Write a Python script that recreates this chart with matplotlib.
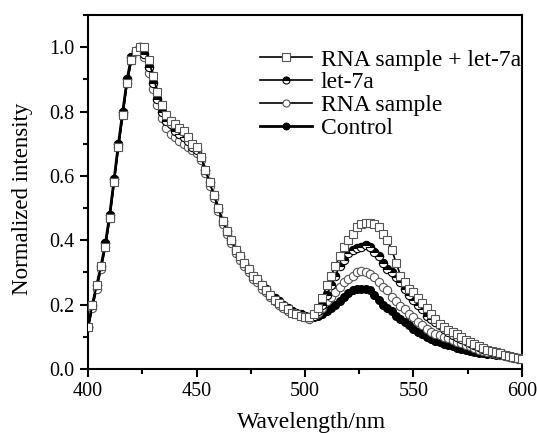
import numpy as np
import matplotlib
matplotlib.use("Agg")
import matplotlib.pyplot as plt
from matplotlib.ticker import MultipleLocator

plt.rcParams['font.family'] = ['Liberation Serif', 'DejaVu Serif']

wavelength = np.arange(400, 601, 2)

blue_common = [0.13, 0.20, 0.26, 0.32, 0.39, 0.48, 0.59, 0.70, 0.80, 0.90,
               0.97, 0.99, 1.00, 0.98, 0.94, 0.89, 0.84, 0.80, 0.77, 0.76,
               0.74, 0.73, 0.72, 0.71, 0.69, 0.68, 0.66, 0.62, 0.58, 0.54,
               0.50, 0.46, 0.43, 0.40, 0.37, 0.35, 0.33, 0.31, 0.29, 0.28,
               0.26, 0.25, 0.23, 0.22, 0.21, 0.20, 0.19, 0.18, 0.175, 0.17,
               0.165, 0.16]

rna_let7a_blue = [0.13, 0.20, 0.26, 0.32, 0.38, 0.47, 0.58, 0.69, 0.79, 0.89,
                  0.96, 0.99, 1.00, 1.00, 0.96, 0.91, 0.86, 0.82, 0.79, 0.77,
                  0.76, 0.75, 0.74, 0.72, 0.70, 0.69, 0.66, 0.62, 0.58, 0.54,
                  0.50, 0.46, 0.43, 0.40, 0.37, 0.35, 0.33, 0.31, 0.29, 0.28,
                  0.26, 0.245, 0.23, 0.215, 0.205, 0.195, 0.185, 0.175, 0.17, 0.165,
                  0.16, 0.16]
rna_let7a_green = [0.17, 0.19, 0.22, 0.26, 0.29, 0.32, 0.35, 0.38, 0.40, 0.42,
                   0.44, 0.45, 0.455, 0.455, 0.45, 0.44, 0.42, 0.40, 0.37, 0.33,
                   0.29, 0.27, 0.25, 0.24, 0.22, 0.205, 0.19, 0.17, 0.155, 0.14,
                   0.13, 0.12, 0.115, 0.11, 0.10, 0.09, 0.085, 0.078, 0.072, 0.066,
                   0.06, 0.056, 0.052, 0.048, 0.044, 0.04, 0.036, 0.033, 0.03]

let7a_green = [0.165, 0.18, 0.20, 0.23, 0.26, 0.29, 0.32, 0.34, 0.36, 0.37,
               0.375, 0.38, 0.385, 0.38, 0.365, 0.35, 0.33, 0.31, 0.30, 0.285,
               0.27, 0.25, 0.23, 0.215, 0.20, 0.185, 0.165, 0.155, 0.145, 0.135,
               0.125, 0.115, 0.105, 0.10, 0.093, 0.087, 0.08, 0.074, 0.068, 0.063,
               0.058, 0.054, 0.05, 0.047, 0.044, 0.041, 0.038, 0.035, 0.032]

rna_blue = [0.13, 0.19, 0.25, 0.31, 0.38, 0.47, 0.58, 0.69, 0.79, 0.89,
            0.96, 0.99, 1.00, 0.97, 0.92, 0.87, 0.82, 0.78, 0.75, 0.73,
            0.72, 0.71, 0.70, 0.69, 0.68, 0.67, 0.65, 0.61, 0.57, 0.53,
            0.49, 0.45, 0.42, 0.39, 0.36, 0.34, 0.32, 0.30, 0.28, 0.27,
            0.25, 0.24, 0.225, 0.21, 0.20, 0.19, 0.18, 0.175, 0.17, 0.165,
            0.16, 0.155]
rna_green = [0.165, 0.175, 0.19, 0.21, 0.225, 0.24, 0.255, 0.27, 0.28, 0.29,
             0.30, 0.305, 0.30, 0.295, 0.285, 0.27, 0.255, 0.245, 0.225, 0.21,
             0.195, 0.185, 0.17, 0.16, 0.145, 0.135, 0.125, 0.115, 0.11, 0.105,
             0.10, 0.095, 0.09, 0.085, 0.08, 0.075, 0.07, 0.065, 0.06, 0.056,
             0.052, 0.049, 0.046, 0.043, 0.04, 0.037, 0.034, 0.032, 0.03]

control_green = [0.16, 0.165, 0.17, 0.18, 0.19, 0.20, 0.21, 0.225, 0.235, 0.245,
                 0.25, 0.25, 0.25, 0.245, 0.23, 0.215, 0.20, 0.19, 0.18, 0.165,
                 0.155, 0.145, 0.135, 0.125, 0.115, 0.108, 0.10, 0.093, 0.088, 0.083,
                 0.078, 0.074, 0.07, 0.066, 0.063, 0.06, 0.057, 0.054, 0.051, 0.049,
                 0.047, 0.045, 0.043, 0.042, 0.041, 0.04, 0.037, 0.034, 0.03]

series_rna_let7a = rna_let7a_blue + rna_let7a_green
series_let7a = blue_common + let7a_green
series_rna = rna_blue + rna_green
series_control = blue_common + control_green

labels = ["RNA sample + let-7a", "let-7a", "RNA sample", "Control"]

fig = plt.figure(figsize=(5.37, 4.33), dpi=100)
ax = fig.add_axes([0.164, 0.148, 0.808, 0.817])

ax.plot(wavelength, series_control, color='black', lw=2.0, marker='o', ms=5.5,
        mfc='black', mec='black', label=labels[3], zorder=2)
ax.plot(wavelength, series_rna, color='black', lw=1.2, marker='o', ms=6,
        mfc='white', mec='#555555', mew=0.8, label=labels[2], zorder=3)
ax.plot(wavelength, series_let7a, color='black', lw=1.2, marker='o', ms=6,
        fillstyle='top', mfc='black', mfcalt='white', mec='black', mew=0.8,
        label=labels[1], zorder=4)
ax.plot(wavelength, series_rna_let7a, color='black', lw=1.2, marker='s', ms=6,
        mfc='white', mec='#555555', mew=0.8, label=labels[0], zorder=5)

ax.set_xlim(400, 600)
ax.set_ylim(0, 1.1)
ax.xaxis.set_major_locator(MultipleLocator(50))
ax.xaxis.set_minor_locator(MultipleLocator(25))
ax.yaxis.set_minor_locator(MultipleLocator(0.1))
ax.set_yticks([0.0, 0.2, 0.4, 0.6, 0.8, 1.0])
ax.yaxis.set_major_formatter(matplotlib.ticker.FormatStrFormatter('%.1f'))
ax.tick_params(which='both', direction='out', top=False, right=False, width=1.5,
               labelsize=14.5)
ax.tick_params(which='major', length=6)
ax.tick_params(which='minor', length=3.5)
for s in ax.spines.values():
    s.set_linewidth(1.5)

ax.set_xlabel("Wavelength/nm", fontsize=17, labelpad=8, x=0.515)
ax.set_ylabel("Normalized intensity", fontsize=16.5, labelpad=12, y=0.48)

handles, labs = ax.get_legend_handles_labels()
order = [3, 2, 1, 0]
leg = ax.legend([handles[i] for i in order], [labs[i] for i in order],
                loc='upper right', frameon=False, fontsize=17,
                handlelength=2.2, handletextpad=0.35, labelspacing=0.05,
                borderaxespad=0.0, borderpad=0.0, markerscale=0.85,
                bbox_to_anchor=(0.997, 0.904))

fig.savefig("out.png", dpi=100)
